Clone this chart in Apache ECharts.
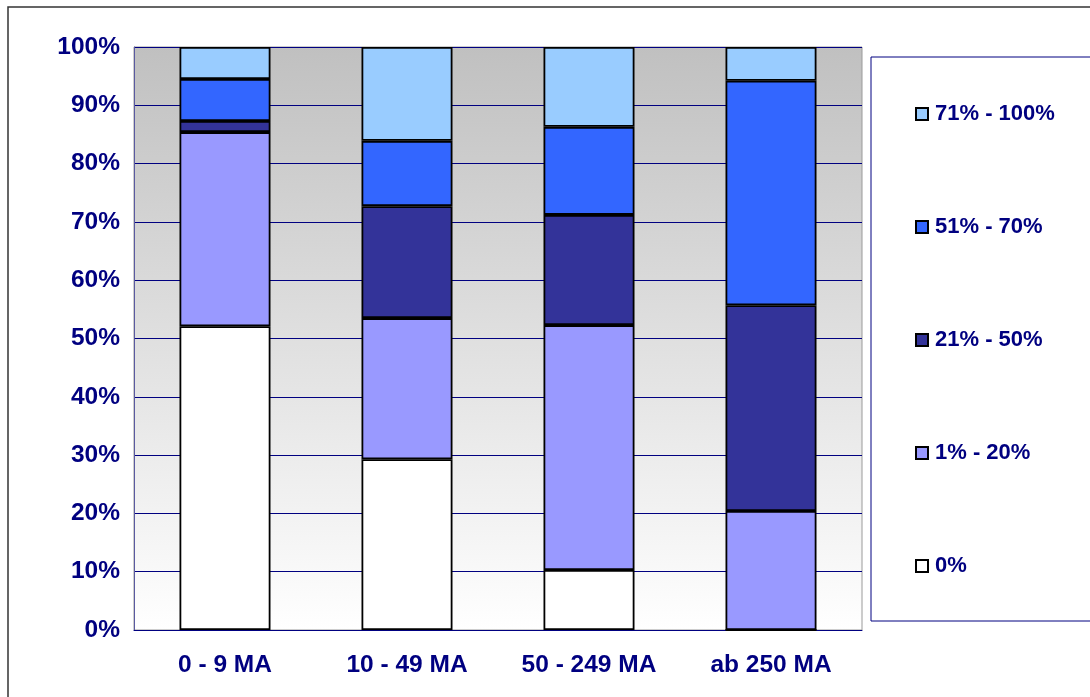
<!DOCTYPE html>
<html>
<head>
<meta charset="utf-8">
<script src="https://cdn.jsdelivr.net/npm/echarts@6/dist/echarts.min.js"></script>
<style>
  html, body { margin: 0; padding: 0; background: #fff; }
  #chart { width: 1090px; height: 697px; }
</style>
</head>
<body>
<div id="chart"></div>
<script>
// categories and stacked shares (percent), bottom to top
const categories = ["0 - 9 MA", "10 - 49 MA", "50 - 249 MA", "ab 250 MA"];
const seriesNames = ["0%", "1% - 20%", "21% - 50%", "51% - 70%", "71% - 100%"];
const share0 = [52.1, 29.3, 10.3, 0];
const share1to20 = [33.3, 24.2, 42.0, 20.4];
const share21to50 = [1.9, 19.2, 18.9, 35.3];
const share51to70 = [7.2, 11.2, 15.1, 38.5];
const share71to100 = [5.5, 16.1, 13.7, 5.8];

const seriesData = [share0, share1to20, share21to50, share51to70, share71to100];
const colors = ["#FFFFFF", "#9999FF", "#333399", "#3366FF", "#99CCFF"];

const navy = "#000080";
const font = "Liberation Sans, Arial, sans-serif";

const chart = echarts.init(document.getElementById("chart"));

chart.setOption({
  animation: false,
  grid: {
    left: 134,
    right: 228,
    top: 47,
    bottom: 67,
    show: true,
    borderColor: "#9a9a9a",
    borderWidth: 1,
    backgroundColor: new echarts.graphic.LinearGradient(0, 0, 0, 1, [
      { offset: 0, color: "#C0C0C0" },
      { offset: 1, color: "#FFFFFF" },
    ]),
  },
  graphic: [
    // outer chart frame (runs off the right and bottom edges)
    {
      type: "rect",
      shape: { x: 8, y: 7, width: 1200, height: 800 },
      style: { fill: "none", stroke: "#333333", lineWidth: 1.5 },
      z: 10,
    },
    // legend box
    {
      type: "rect",
      shape: { x: 871, y: 57, width: 300, height: 564 },
      style: { fill: "#FFFFFF", stroke: navy, lineWidth: 1 },
      z: 1,
    },
  ],
  legend: {
    orient: "vertical",
    left: 910,
    top: 97,
    icon: "rect",
    itemWidth: 12,
    itemHeight: 12,
    itemGap: 89,
    data: seriesNames.slice().reverse(),
    itemStyle: { borderColor: "#000000", borderWidth: 2 },
    textStyle: {
      color: navy,
      fontFamily: font,
      fontWeight: "bold",
      fontSize: 22,
      lineHeight: 24,
      padding: [0, 0, 0, 2],
    },
    z: 5,
  },
  xAxis: {
    type: "category",
    data: categories,
    axisLine: { lineStyle: { color: navy, width: 1 } },
    axisTick: { show: false },
    axisLabel: {
      color: navy,
      fontFamily: font,
      fontWeight: "bold",
      fontSize: 24.5,
      margin: 23,
    },
  },
  yAxis: {
    type: "value",
    min: 0,
    max: 100,
    interval: 10,
    axisLine: { show: true, lineStyle: { color: "#5a5aa0", width: 1 } },
    axisTick: { show: false },
    splitLine: { lineStyle: { color: navy, width: 1 } },
    axisLabel: {
      formatter: "{value}%",
      color: navy,
      fontFamily: font,
      fontWeight: "bold",
      fontSize: 24.5,
      margin: 14,
    },
  },
  series: seriesData.map((data, i) => ({
    name: seriesNames[i],
    type: "bar",
    stack: "total",
    barWidth: "50%",
    data: data,
    itemStyle: {
      color: colors[i],
      borderColor: "#000000",
      borderWidth: 1.8,
    },
  })),
});
</script>
</body>
</html>
